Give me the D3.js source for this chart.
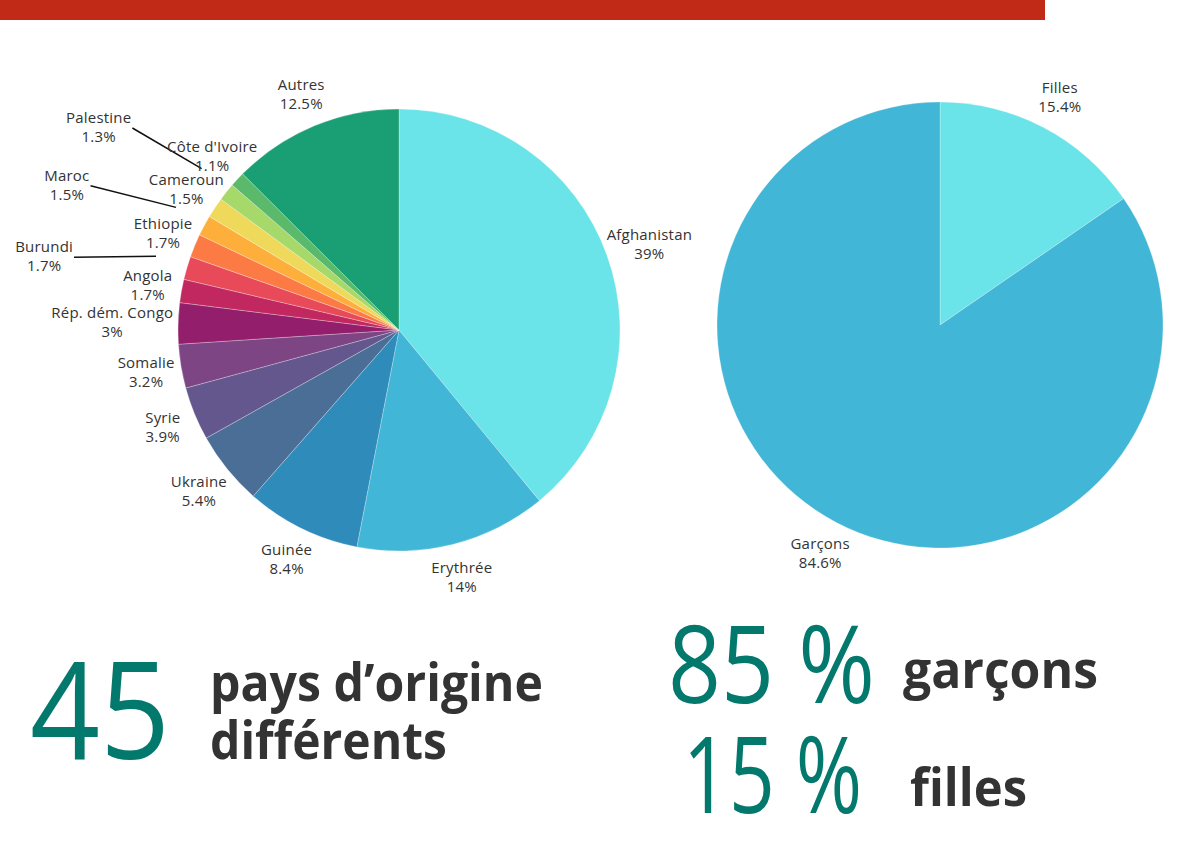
<!DOCTYPE html>
<html>
<head>
<meta charset="utf-8">
<script src="https://cdn.jsdelivr.net/npm/d3@7"></script>
<style>
  html, body { margin: 0; padding: 0; background: #fff; }
  text { font-family: 'Open Sans', 'Lato', sans-serif; }
</style>
</head>
<body>
<div id="chart"></div>
<script>
// pays d'origine (ordre horaire depuis midi)
const countries = ['Afghanistan', 'Erythrée', 'Guinée', 'Ukraine', 'Syrie', 'Somalie',
  'Rép. dém. Congo', 'Angola', 'Burundi', 'Ethiopie', 'Maroc', 'Cameroun',
  'Palestine', "Côte d'Ivoire", 'Autres'];
const countryValues = [39, 14, 8.4, 5.4, 3.9, 3.2, 3, 1.7, 1.7, 1.7, 1.5, 1.5, 1.3, 1.1, 12.5];
const countryColors = ['#6ae4e8', '#42b6d6', '#2e8bba', '#4b6e96', '#63578e', '#7e4585',
  '#931f6c', '#c1285f', '#e84a5a', '#fc7b45', '#fdae3b', '#eed95b',
  '#a7d86a', '#5bb96b', '#1a9e74'];

const genders = ['Filles', 'Garçons'];
const genderValues = [15.4, 84.6];
const genderColors = ['#6ae4e8', '#42b6d6'];

const width = 1179;
const height = 847;
const labelFactor = 1.155;
const edgeMargin = 5;

const svg = d3.select('#chart')
  .append('svg')
  .attr('width', width)
  .attr('height', height);

// bandeau rouge
svg.append('rect')
  .attr('x', 0).attr('y', 0)
  .attr('width', 1045).attr('height', 20)
  .attr('fill', '#c22a18');

function polar(cx, cy, r, a) {
  return [cx + r * Math.sin(a), cy - r * Math.cos(a)];
}

function drawPie(names, values, colors, cx, cy, r) {
  const data = names.map((n, i) => ({ name: n, value: values[i], color: colors[i] }));
  const arcs = d3.pie().sort(null).value(d => d.value)(data);
  const arc = d3.arc().innerRadius(0).outerRadius(r);

  const g = svg.append('g').attr('transform', `translate(${cx},${cy})`);
  g.selectAll('path')
    .data(arcs)
    .enter()
    .append('path')
    .attr('d', arc)
    .attr('fill', d => d.data.color)
    .attr('stroke', 'rgba(255,255,255,0.45)')
    .attr('stroke-width', 0.6);

  const labels = svg.append('g');
  let prev = null;
  arcs.forEach((d) => {
    const mid = (d.startAngle + d.endAngle) / 2;
    let [x, y] = polar(cx, cy, r * labelFactor, mid);
    const lab = labels.append('g');
    const t1 = lab.append('text').text(d.data.name)
      .attr('text-anchor', 'middle').attr('font-size', '15px')
      .attr('letter-spacing', '0.2px').attr('fill', '#333');
    const t2 = lab.append('text').text(d.data.value + '%')
      .attr('text-anchor', 'middle').attr('font-size', '15px')
      .attr('letter-spacing', '0.2px').attr('fill', '#333');
    const w1 = t1.node().getComputedTextLength();
    const w2 = t2.node().getComputedTextLength();
    const origin = [x, y];

    // chevauchement avec l'étiquette précédente -> on la repousse vers l'extérieur
    let moved = false;
    if (prev && !prev.moved) {
      const overlapY = Math.abs(prev.y - y) < 36;
      const overlapX = Math.abs(prev.x - x) < (Math.max(w1, w2) + prev.w) / 2;
      if (overlapY && overlapX) {
        [x, y] = polar(cx, cy, r * 1.64, mid - 0.08);
        moved = true;
      }
    }

    // pas de texte sur le camembert
    if (!moved) {
      let shift = 0;
      [[w1, y - 4], [w2, y + 15]].forEach(([w, base]) => {
        const top = base - 12, bot = base + 2;
        const dy = (top <= cy && bot >= cy) ? 0 : Math.min(Math.abs(top - cy), Math.abs(bot - cy));
        if (dy >= r) return;
        const half = Math.sqrt(r * r - dy * dy);
        if (x < cx) {
          const over = (x + w / 2) - (cx - half - edgeMargin);
          if (over > shift) shift = over;
        } else {
          const over = (cx + half + edgeMargin) - (x - w / 2);
          if (over > shift) shift = over;
        }
      });
      x += x < cx ? -shift : shift;
    }

    t1.attr('x', x).attr('y', y - 4);
    t2.attr('x', x).attr('y', y + 15);

    if (moved) {
      labels.append('line')
        .attr('x1', x + w1 / 2 + 1).attr('y1', y + 1)
        .attr('x2', origin[0] + 2).attr('y2', origin[1] - 2)
        .attr('stroke', '#111').attr('stroke-width', 1.5);
    }
    prev = { x: x, y: y, w: Math.max(w1, w2), moved: moved };
  });
}

drawPie(countries, countryValues, countryColors, 399, 330, 221);
drawPie(genders, genderValues, genderColors, 940, 325, 223);

// chiffres clés
const teal = '#03786c';
const dark = '#333333';

function bigNumber(txt, x, y, len, size) {
  svg.append('text').text(txt)
    .attr('x', x).attr('y', y)
    .attr('font-family', "'Open Sans', sans-serif")
    .attr('font-size', size + 'px')
    .attr('fill', teal)
    .attr('textLength', len)
    .attr('lengthAdjust', 'spacingAndGlyphs');
}

function boldText(txt, x, y, len) {
  svg.append('text').text(txt)
    .attr('x', x).attr('y', y)
    .attr('font-family', "'Lato', sans-serif")
    .attr('font-weight', 700)
    .attr('font-size', '52px')
    .attr('fill', dark)
    .attr('textLength', len)
    .attr('lengthAdjust', 'spacingAndGlyphs');
}

bigNumber('45', 30, 759, 140, 136);
boldText('pays d’origine', 210, 701, 333);
boldText('différents', 210, 759, 237);

bigNumber('85 %', 668, 703, 207, 108);
boldText('garçons', 903, 688, 195);
bigNumber('15 %', 683, 813, 179, 106);
boldText('filles', 910, 806, 117);
</script>
</body>
</html>
